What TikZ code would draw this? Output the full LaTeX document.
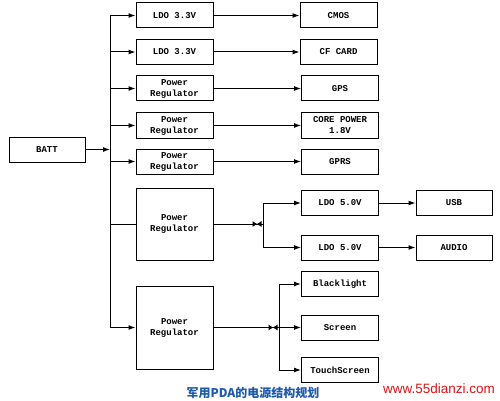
\documentclass[tikz,border=0pt]{standalone}
\usepackage{fontspec}
\setmonofont{Liberation Mono}
\newfontfamily\cjk{Noto Sans CJK SC}
\newfontfamily\wmfont{Liberation Sans}
\usetikzlibrary{arrows.meta}
\definecolor{capblue}{RGB}{30,90,170}
\definecolor{wmred}{RGB}{215,20,20}
\tikzset{
  blk/.style={draw, line width=1pt, rectangle, inner sep=0pt, align=center,
    font=\ttfamily\bfseries\fontsize{9}{11}\selectfont},
  sbox/.style={blk, minimum width=77pt, minimum height=25pt},
  conn/.style={line width=1pt},
  arr/.style={conn, -{Latex[length=7pt,width=5pt]}},
}
\newcommand{\jmark}[1]{%
  \fill (#1) -- ++(-4.5,-2.8) -- ++(0,5.6) -- cycle;
  \fill (#1) -- ++(4.5,-2.8) -- ++(0,5.6) -- cycle;}
\begin{document}
\begin{tikzpicture}[x=1pt,y=-1pt]
\useasboundingbox (0,0) rectangle (500,401);
% nodes
\node[sbox, minimum width=76pt] (batt) at (47,149.5) {BATT};
\node[sbox] (l1) at (174.5,15.5) {LDO 3.3V};
\node[sbox] (l2) at (174.5,52) {LDO 3.3V};
\node[sbox] (l3) at (174.5,88.5) {Power\\Regulator};
\node[sbox] (l4) at (174.5,125.5) {Power\\Regulator};
\node[sbox] (l5) at (174.5,161.5) {Power\\Regulator};
\node[sbox, minimum height=72pt] (l6) at (174.5,224) {Power\\Regulator};
\node[sbox, minimum height=83pt] (l7) at (174.5,327.5) {Power\\Regulator};
\node[sbox] (r1) at (338.5,15.5) {CMOS};
\node[sbox] (r2) at (338.5,52) {CF CARD};
\node[sbox] (r3) at (340,88.5) {GPS};
\node[sbox] (r4) at (340,125.5) {CORE POWER\\1.8V};
\node[sbox] (r5) at (340,161.5) {GPRS};
\node[sbox] (d1) at (340,203) {LDO 5.0V};
\node[sbox] (d2) at (340,247.5) {LDO 5.0V};
\node[sbox, minimum width=76pt] (usb) at (454,203) {USB};
\node[sbox, minimum width=76pt] (audio) at (454,247.5) {AUDIO};
\node[sbox] (bl) at (340,284) {Blacklight};
\node[sbox] (sc) at (340,328) {Screen};
\node[sbox] (ts) at (340,370) {TouchScreen};
% bus
\coordinate (bus) at (110,149.5);
\draw[arr] (batt.east) -- (bus);
\draw[conn] (110,15.5) -- (110,327.5);
\draw[arr] (110,15.5) -- (l1.west);
\draw[arr] (110,52) -- (l2.west);
\draw[arr] (110,88.5) -- (l3.west);
\draw[arr] (110,125.5) -- (l4.west);
\draw[arr] (110,161.5) -- (l5.west);
\draw[conn] (110,224) -- (l6.west);
\draw[arr] (110,327.5) -- (l7.west);
% to right column
\draw[arr] (l1.east) -- (r1.west);
\draw[arr] (l2.east) -- (r2.west);
\draw[arr] (l3.east) -- (r3.west);
\draw[arr] (l4.east) -- (r4.west);
\draw[arr] (l5.east) -- (r5.west);
% box 6 branch
\coordinate (j1) at (263,224);
\draw[conn] (l6.east) -- (j1);
\draw[arr] (j1) |- (d1.west);
\draw[arr] (j1) |- (d2.west);
\jmark{257,224}
\draw[arr] (d1.east) -- (usb.west);
\draw[arr] (d2.east) -- (audio.west);
% box 7 branch
\coordinate (j2) at (279,327.5);
\draw[conn] (l7.east) -- (j2);
\draw[arr] (j2) |- (bl.west);
\draw[arr] (j2) -- (sc.west |- j2);
\draw[arr] (j2) |- (ts.west);
\jmark{273,327.5}
% caption
\node[font=\cjk\bfseries\fontsize{12}{14}\selectfont, text=capblue, inner sep=0pt] (cap) at (253,393) {军用PDA的电源结构规划};
\node[font=\wmfont\fontsize{13.5}{15}\selectfont, text=wmred, inner sep=0pt] (wm) at (439,389) {www.55dianzi.com};
\end{tikzpicture}
\end{document}
